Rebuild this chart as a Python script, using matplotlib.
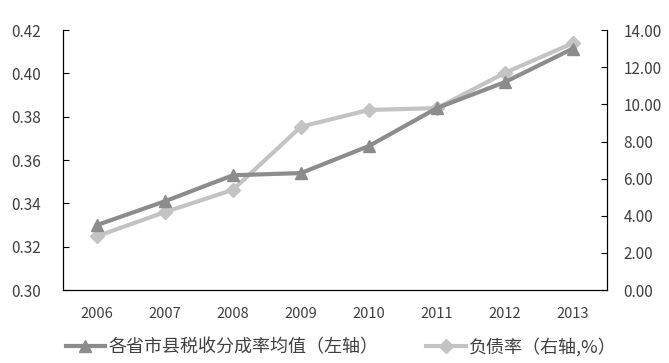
import matplotlib
matplotlib.use("Agg")
import matplotlib.pyplot as plt

plt.rcParams['font.family'] = ['Noto Sans CJK SC', 'DejaVu Sans']

years = ['2006', '2007', '2008', '2009', '2010', '2011', '2012', '2013']
tax_share = [0.330, 0.341, 0.353, 0.354, 0.3665, 0.384, 0.396, 0.4115]
debt_ratio = [2.9, 4.2, 5.4, 8.8, 9.7, 9.8, 11.7, 13.3]

c1 = '#8c8c8c'
c2 = '#c3c3c3'
tc = '#404040'

fig = plt.figure(figsize=(6.69, 3.63), dpi=100)
ax = fig.add_axes([0.0942, 0.201, 0.813, 0.716])
ax2 = ax.twinx()

x = list(range(len(years)))
l1, = ax.plot(x, tax_share, color=c1, lw=3, marker='^', ms=9, label='各省市县税收分成率均值（左轴）')
l2, = ax2.plot(x, debt_ratio, color=c2, lw=3, marker='D', ms=7, label='负债率（右轴,%）')
ax2.set_zorder(0)
ax.set_zorder(1)
ax.patch.set_visible(False)

ax.set_xlim(-0.5, 7.5)
ax.set_ylim(0.30, 0.42)
ax.set_yticks([0.30, 0.32, 0.34, 0.36, 0.38, 0.40, 0.42])
ax.set_yticklabels(['%.2f' % v for v in ax.get_yticks()])
ax2.set_ylim(0, 14)
ax2.set_yticks(range(0, 15, 2))
ax2.set_yticklabels(['%.2f' % v for v in range(0, 15, 2)])
ax.set_xticks(x)
ax.set_xticklabels(years)

for a in (ax, ax2):
    a.spines['top'].set_visible(False)
    a.tick_params(axis='x', length=0, labelcolor=tc, labelsize=10.5, pad=12)
ax.tick_params(axis='y', direction='in', length=4, colors='black', labelcolor=tc, labelsize=11, pad=16)
ax2.tick_params(axis='y', direction='in', length=4, colors='black', labelcolor=tc, labelsize=11, pad=12)

fig.legend(handles=[l1, l2], loc='center', bbox_to_anchor=(0.51, 0.044), ncol=2, frameon=False,
           fontsize=13, handlelength=2.2, handletextpad=0.2, columnspacing=2.6, labelcolor=tc)

fig.savefig('out.png', dpi=100)
